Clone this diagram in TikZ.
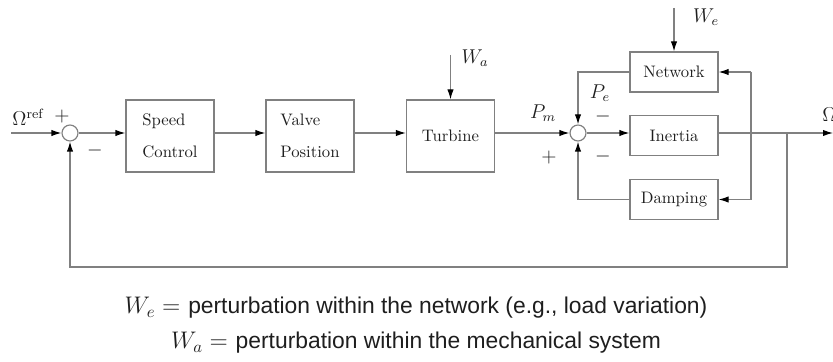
\documentclass[tikz,border=0pt]{standalone}
\usepackage{fontspec}
\setsansfont{Liberation Sans}
\usetikzlibrary{arrows.meta}
\definecolor{ln}{HTML}{808080}
\definecolor{tx}{HTML}{1E1E1E}
\begin{document}
\begin{tikzpicture}[x=0.6pt,y=-0.6pt,
  every node/.style={text=tx},
  blk/.style={draw=ln, line width=0.7pt, minimum width=52.8pt, minimum height=43.2pt, inner sep=0pt, align=left, font=\fontsize{10}{19}\selectfont},
  sblk/.style={draw=ln, line width=0.7pt, minimum width=52.8pt, minimum height=24pt, inner sep=0pt, font=\fontsize{10}{12}\selectfont},
  sumc/.style={draw=ln, line width=0.7pt, circle, minimum size=9.6pt, inner sep=0pt, fill=white},
  wire/.style={draw=ln, line width=0.7pt},
  arr/.style={wire, -{Latex[length=6pt,width=3.8pt,fill=black,color=black]}},
  lab/.style={font=\fontsize{11.5}{13}\selectfont, inner sep=0pt}
]
\useasboundingbox (0,0) rectangle (833,362);
% summing junctions
\node[sumc] (s1) at (70,133) {};
\node[sumc] (s2) at (578,133) {};
% blocks
\node[blk] (sc) at (170,136) {Speed\\Control};
\node[blk] (vp) at (310,136) {Valve\\Position};
\node[blk] (tu) at (450.5,136) {Turbine};
\node[sblk] (nw) at (674,72) {Network};
\node[sblk] (in) at (674,135.5) {Inertia};
\node[sblk] (dp) at (674,199.5) {Damping};
% coordinates
\coordinate (in0) at (11,133);
\coordinate (wa0) at (450.5,55);
\coordinate (we0) at (674,8);
\coordinate (rj1) at (751,72);
\coordinate (rj2) at (751,199.5);
\coordinate (fb) at (787,133);
\coordinate (fb1) at (787,267);
\coordinate (fb2) at (70,267);
\coordinate (out) at (833,133);
\coordinate (nl) at (578,72);
\coordinate (dl) at (578,199.5);
% connectors
\draw[arr] (in0) -- (s1);
\draw[arr] (s1) -- (sc.west |- s1);
\draw[arr] (sc.east |- s1) -- (vp.west |- s1);
\draw[arr] (vp.east |- s1) -- (tu.west |- s1);
\draw[arr] (wa0) -- (tu.north);
\draw[arr] (tu.east |- s2) -- (s2);
\draw[arr] (s2) -- (in.west |- s2);
\draw[arr] (we0) -- (nw.north);
\draw[arr] (nw.west) -- (nl) -- (s2.north);
\draw[arr] (dp.west) -- (dl) -- (s2.south);
\draw[arr] (in.east |- s2) -- (out);
\draw[wire] (rj1) -- (rj2);
\draw[arr] (rj1) -- (nw.east);
\draw[arr] (rj2) -- (dp.east);
\draw[arr] (fb) -- (fb1) -- (fb2) -- (s1.south);
% labels
\node[lab] (lref) at (28,117) {$\Omega^{\mathrm{ref}}$};
\node[lab] (lp1) at (62,117) {$+$};
\node[lab] (lm1) at (95,150) {$-$};
\node[lab] (lwa) at (475,58) {$W_a$};
\node[lab] (lpm) at (543,113) {$P_m$};
\node[lab] (lp2) at (549,158) {$+$};
\node[lab] (lpe) at (600,93) {$P_e$};
\node[lab] (lm2) at (603,117) {$-$};
\node[lab] (lm3) at (603,157) {$-$};
\node[lab] (lwe) at (706,17) {$W_e$};
\node[lab, anchor=west] (lom) at (822,115) {$\Omega$};
% bottom text
\node[inner sep=0pt, font=\fontsize{14.5}{17}\selectfont] (t1) at (416,308) {$W_e =$ \sffamily\fontsize{13.7}{17}\selectfont perturbation within the network (e.g., load variation)};
\node[inner sep=0pt, font=\fontsize{14.5}{17}\selectfont] (t2) at (416,343) {$W_a =$ \sffamily\fontsize{13.7}{17}\selectfont perturbation within the mechanical system};
\end{tikzpicture}
\end{document}
